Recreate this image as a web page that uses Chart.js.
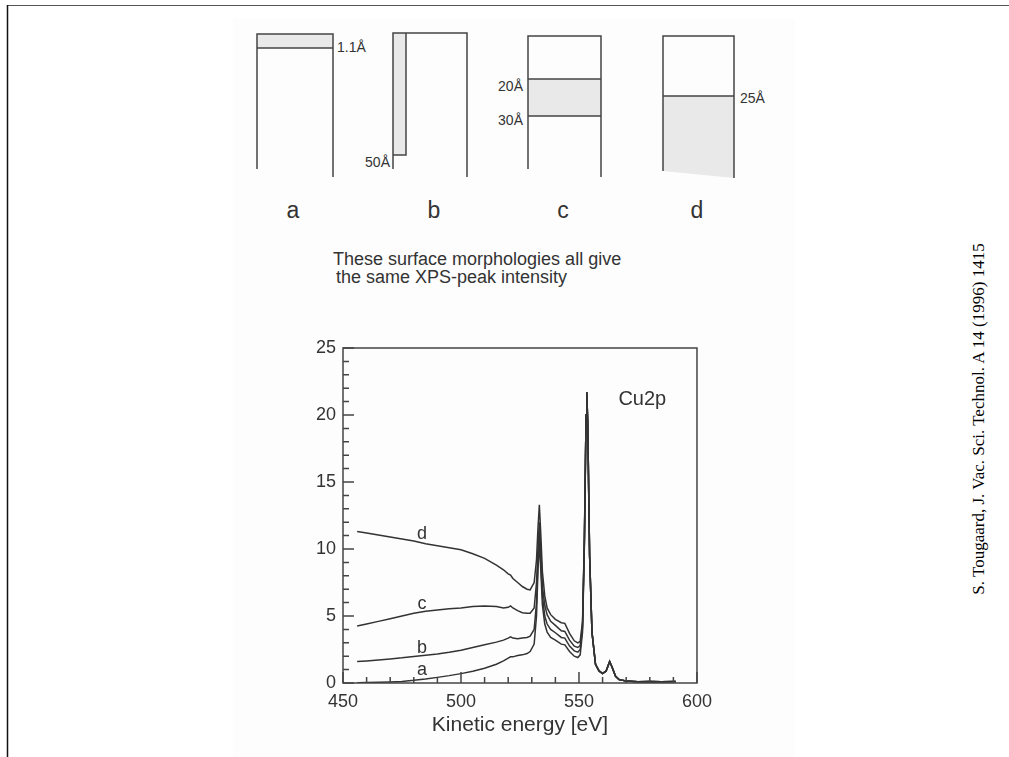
<!DOCTYPE html>
<html>
<head>
<meta charset="utf-8">
<script src="https://cdn.jsdelivr.net/npm/chart.js@4.4.0/dist/chart.umd.min.js"></script>
<style>
  html, body { margin: 0; padding: 0; background: #fff; }
  body { width: 1009px; height: 757px; position: relative; overflow: hidden;
         font-family: "Liberation Sans", Arial, sans-serif; color: #333; }
  .abs { position: absolute; }
  .scan { left: 233px; top: 19px; width: 562px; height: 738px; background: #fdfdfd; }
  .depth { font-size: 14px; line-height: 14px; white-space: nowrap; }
  .morph { font-size: 23px; line-height: 23px; width: 40px; text-align: center; }
  .note { left: 333px; top: 250px; font-size: 18px; line-height: 18px; white-space: nowrap; }
  .cite { left: 779px; top: 409px; width: 400px; height: 20px; line-height: 20px;
          text-align: center; font-family: "Liberation Serif", "Times New Roman", serif;
          font-size: 17px; color: #000; transform: rotate(-90deg); white-space: nowrap; }
  #wrap { left: 280px; top: 330px; width: 440px; height: 410px; }
</style>
</head>
<body>
<div class="abs scan"></div>

<!-- page frame + the four depth-profile sketches -->
<svg class="abs" style="left:0;top:0" width="1009" height="757">
  <path d="M7 5.5 H1009" stroke="#555" stroke-width="1.2" fill="none"/>
  <path d="M7.5 5 V757" stroke="#111" stroke-width="1.5" fill="none"/>
  <g fill="#e9e9e9" stroke="none">
    <rect x="257" y="34" width="76" height="14"/>
    <rect x="393" y="33" width="13" height="122"/>
    <rect x="528" y="79" width="73" height="37"/>
    <polygon points="663,96 734,96 734,178 663,171"/>
  </g>
  <g stroke="#444" stroke-width="1.5" fill="none">
    <path d="M257 169 V34 H333 V177 M257 48 H333"/>
    <path d="M393 169 V33 H467 V177 M393 155 H406 V33"/>
    <path d="M528 169 V36 H601 V177 M528 79 H601 M528 116 H601"/>
    <path d="M663 171 V36 H734 V178 M663 96 H734"/>
  </g>
</svg>

<div class="abs depth" style="left:337px;top:40px">1.1Å</div>
<div class="abs depth" style="left:350px;top:155px;width:40px;text-align:right">50Å</div>
<div class="abs depth" style="left:483px;top:79px;width:40px;text-align:right">20Å</div>
<div class="abs depth" style="left:483px;top:113px;width:40px;text-align:right">30Å</div>
<div class="abs depth" style="left:740px;top:91px">25Å</div>

<div class="abs morph" style="left:273px;top:199px">a</div>
<div class="abs morph" style="left:414px;top:199px">b</div>
<div class="abs morph" style="left:543px;top:199px">c</div>
<div class="abs morph" style="left:677px;top:199px">d</div>

<div class="abs note">These surface morphologies all give<br><span style="margin-left:3px">the same XPS-peak intensity</span></div>

<div class="abs cite">S. Tougaard, J. Vac. Sci. Technol. A 14 (1996) 1415</div>

<div class="abs" id="wrap"><canvas id="spectrum" width="440" height="410"></canvas></div>

<script>
// ---------- DATA ----------
const energy = [456, 460, 465, 470, 475, 480, 485, 490, 495, 500,
                505, 510, 515, 518, 520, 521, 522, 524, 526, 528,
                529.3, 531, 532, 532.6, 533.2, 533.8, 534.5, 535.5, 536.5, 538,
                540, 542.5, 544, 546, 548, 549.5, 550.5, 551.5, 552.3, 553,
                553.3, 553.7, 554.5, 555.5, 557, 558.5, 560, 561.5, 563, 564,
                565.5, 567, 570, 575, 580, 585, 591];

// shared Cu2p3/2 peak + tail (all four curves coincide from 553 eV on)
const tail = [20, 21.7, 19.5, 9.5, 3.8, 1.4, 0.9, 0.7, 0.9, 1.6,
              1.2, 0.5, 0.25, 0.15, 0.1, 0.12, 0.1, 0.12];

const curveD = [11.3, 11.2, 11.05, 10.9, 10.75, 10.6, 10.4, 10.25, 10.1, 9.95,
                9.65, 9.3, 8.8, 8.45, 8.15, 8.05, 7.8, 7.5, 7.2, 7.0,
                6.95, 7.5, 9.2, 11.5, 13.3, 11.2, 8.3, 6.5, 5.6, 5.1,
                4.75, 4.5, 4.45, 3.7, 3.15, 3.0, 3.1, 4.6, 11.0].concat(tail);
const curveC = [4.25, 4.4, 4.6, 4.8, 5.0, 5.2, 5.35, 5.45, 5.55, 5.6,
                5.7, 5.75, 5.7, 5.6, 5.65, 5.75, 5.6, 5.4, 5.25, 5.2,
                5.2, 5.6, 7.5, 10.0, 12.0, 10.0, 7.2, 5.8, 5.1, 4.6,
                4.3, 3.9, 3.85, 3.2, 2.75, 2.65, 2.8, 4.3, 10.8].concat(tail);
const curveB = [1.6, 1.65, 1.72, 1.8, 1.88, 1.98, 2.07, 2.17, 2.3, 2.45,
                2.65, 2.85, 3.05, 3.2, 3.35, 3.45, 3.35, 3.3, 3.35, 3.4,
                3.5, 4.0, 6.0, 9.0, 11.2, 9.2, 6.5, 5.0, 4.4, 4.0,
                3.75, 3.4, 3.35, 2.75, 2.4, 2.3, 2.5, 4.1, 10.6].concat(tail);
const curveA = [0.02, 0.03, 0.05, 0.08, 0.12, 0.2, 0.3, 0.42, 0.55, 0.7,
                0.88, 1.1, 1.4, 1.65, 1.85, 1.95, 1.95, 2.05, 2.1, 2.2,
                2.35, 2.9, 5.0, 8.3, 10.5, 8.5, 5.8, 4.4, 3.8, 3.4,
                3.2, 2.9, 2.85, 2.35, 2.0, 1.9, 2.1, 3.8, 10.4].concat(tail);

const curveNames = ["a", "b", "c", "d"];
const labelEnergy = 483.5;
const labelLevels = [0.6, 2.26, 5.52, 10.72];   // baseline of each curve letter

// ---------- HELPERS ----------
const toPoints = vals => energy.map((e, i) => ({ x: e, y: vals[i] }));

const series = [curveA, curveB, curveC, curveD].map((vals, i) => ({
  label: curveNames[i],
  data: toPoints(vals),
  borderColor: "#333",
  borderWidth: 1.5,
  pointRadius: 0,
  tension: 0,
  fill: false,
}));

// frame, inward tick marks and in-plot text
const framePlugin = {
  id: "frame",
  afterDatasetsDraw(chart) {
    const { ctx, chartArea: a, scales: { x, y } } = chart;
    ctx.save();
    ctx.strokeStyle = "#444";
    ctx.lineWidth = 1.5;
    ctx.strokeRect(a.left, a.top, a.right - a.left, a.bottom - a.top);

    ctx.beginPath();
    for (let v = 0; v <= 25; v++) {
      const py = y.getPixelForValue(v);
      const len = v % 5 === 0 ? 11 : 6;
      ctx.moveTo(a.left, py);
      ctx.lineTo(a.left + len, py);
    }
    for (let v = 450; v <= 600; v += 10) {
      const px = x.getPixelForValue(v);
      const len = v % 50 === 0 ? 11 : 6;
      ctx.moveTo(px, a.bottom);
      ctx.lineTo(px, a.bottom - len);
    }
    ctx.stroke();

    ctx.fillStyle = "#333";
    ctx.textBaseline = "alphabetic";
    ctx.textAlign = "center";
    ctx.font = '18px "Liberation Sans", Arial, sans-serif';
    curveNames.forEach((n, i) => {
      ctx.fillText(n, x.getPixelForValue(labelEnergy), y.getPixelForValue(labelLevels[i]));
    });

    ctx.textAlign = "left";
    ctx.font = '20px "Liberation Sans", Arial, sans-serif';
    ctx.fillText("Cu2p", x.getPixelForValue(566.7), y.getPixelForValue(20.75));
    ctx.restore();
  },
};

// ---------- CHART ----------
new Chart(document.getElementById("spectrum"), {
  type: "line",
  data: { datasets: series },
  options: {
    responsive: false,
    animation: false,
    layout: { padding: { top: 18, right: 17, left: 0, bottom: 0 } },
    plugins: { legend: { display: false }, tooltip: { enabled: false } },
    scales: {
      x: {
        type: "linear",
        min: 450,
        max: 600,
        grid: { display: false, drawTicks: false },
        border: { display: false },
        ticks: {
          stepSize: 50,
          padding: 8,
          color: "#333",
          font: { family: "Liberation Sans", size: 18 },
        },
        title: {
          display: true,
          text: "Kinetic energy [eV]",
          color: "#333",
          font: { family: "Liberation Sans", size: 21 },
          padding: { top: 0, bottom: 2 },
        },
        afterFit: s => { s.height = 57; },
      },
      y: {
        min: 0,
        max: 25,
        grid: { display: false, drawTicks: false },
        border: { display: false },
        ticks: {
          stepSize: 5,
          padding: 7,
          color: "#333",
          font: { family: "Liberation Sans", size: 18 },
        },
        afterFit: s => { s.width = 63; },
      },
    },
  },
  plugins: [framePlugin],
});
</script>
</body>
</html>
